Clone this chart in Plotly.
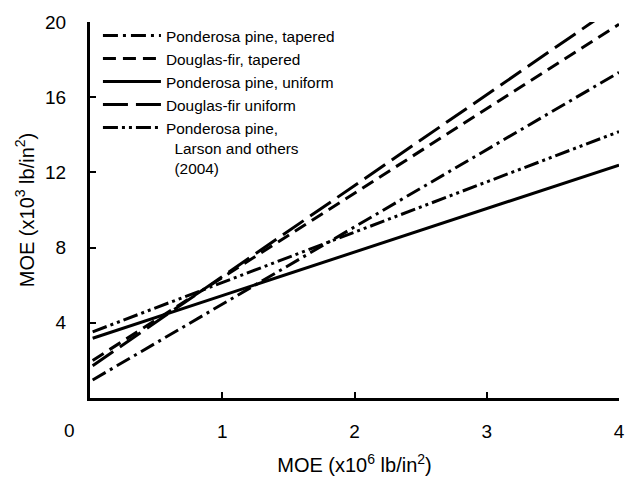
import plotly.graph_objects as go

# MOE relationships (x in 10^6 lb/in^2, y in 10^3 lb/in^2)
series_names = [
    "Ponderosa pine, tapered",
    "Douglas-fir, tapered",
    "Ponderosa pine, uniform",
    "Douglas-fir uniform",
    "Ponderosa pine,<br>\u00a0\u00a0Larson and others<br>\u00a0\u00a0(2004)",
]
pp_tapered_x = [0.02, 4.0]
pp_tapered_y = [0.96, 17.32]
df_tapered_x = [0.02, 4.0]
df_tapered_y = [2.0, 19.88]
pp_uniform_x = [0.02, 4.0]
pp_uniform_y = [3.18, 12.39]
df_uniform_x = [0.02, 3.82]
df_uniform_y = [1.72, 20.1]
pp_larson_x = [0.02, 4.0]
pp_larson_y = [3.52, 14.17]

x_ticks = [0, 1, 2, 3, 4]
y_ticks = [4, 8, 12, 16, 20]

xs = [pp_tapered_x, df_tapered_x, pp_uniform_x, df_uniform_x, pp_larson_x]
ys = [pp_tapered_y, df_tapered_y, pp_uniform_y, df_uniform_y, pp_larson_y]
dashes = [
    "15px,5px,3px,5px",
    "13px,7px",
    "solid",
    "25px,8px",
    "15px,4px,3px,4px,3px,4px",
]

FONT = "Arial, 'Liberation Sans', sans-serif"

fig = go.Figure()
for name, x, y, d in zip(series_names, xs, ys, dashes):
    fig.add_trace(go.Scatter(
        x=x, y=y, mode="lines", name=name,
        line=dict(color="black", width=3, dash=d),
    ))

fig.update_layout(
    width=629, height=481,
    margin=dict(l=90, r=10, t=22, b=83),
    paper_bgcolor="white", plot_bgcolor="white",
    font=dict(family=FONT, color="black", size=19),
    showlegend=True,
    legend=dict(
        x=0.015, y=1.008, xanchor="left", yanchor="top",
        font=dict(family=FONT, size=15.4, color="black"),
        bgcolor="rgba(0,0,0,0)", tracegroupgap=0,
        valign="top", itemwidth=58,
    ),
    xaxis=dict(
        range=[0, 4], tickvals=x_ticks[1:], ticktext=[str(v) for v in x_ticks[1:]],
        showline=True, linecolor="black", linewidth=3, mirror=False,
        ticks="inside", ticklen=6, tickwidth=2, tickcolor="black",
        showgrid=False, zeroline=False, ticklabelstandoff=14,
        tickfont=dict(size=19), automargin=False,
        title=dict(text="MOE (x10<sup>6</sup> lb/in<sup>2</sup>)", font=dict(size=20), standoff=18),
    ),
    yaxis=dict(
        range=[0, 20], tickvals=y_ticks, ticktext=[str(v) for v in y_ticks],
        showline=True, linecolor="black", linewidth=3, mirror=False,
        ticks="inside", ticklen=6, tickwidth=2, tickcolor="black",
        showgrid=False, zeroline=False, ticklabelstandoff=17,
        tickfont=dict(size=19), automargin=False,
        title=dict(text="MOE (x10<sup>3</sup> lb/in<sup>2</sup>)", font=dict(size=20), standoff=6),
    ),
)

# shared origin label
fig.add_annotation(
    x=0, y=0, xref="x", yref="y", text="0", showarrow=False,
    xanchor="center", yanchor="top", xshift=-21, yshift=-20,
    font=dict(family=FONT, size=19, color="black"),
)

fig.write_html("out.html")
